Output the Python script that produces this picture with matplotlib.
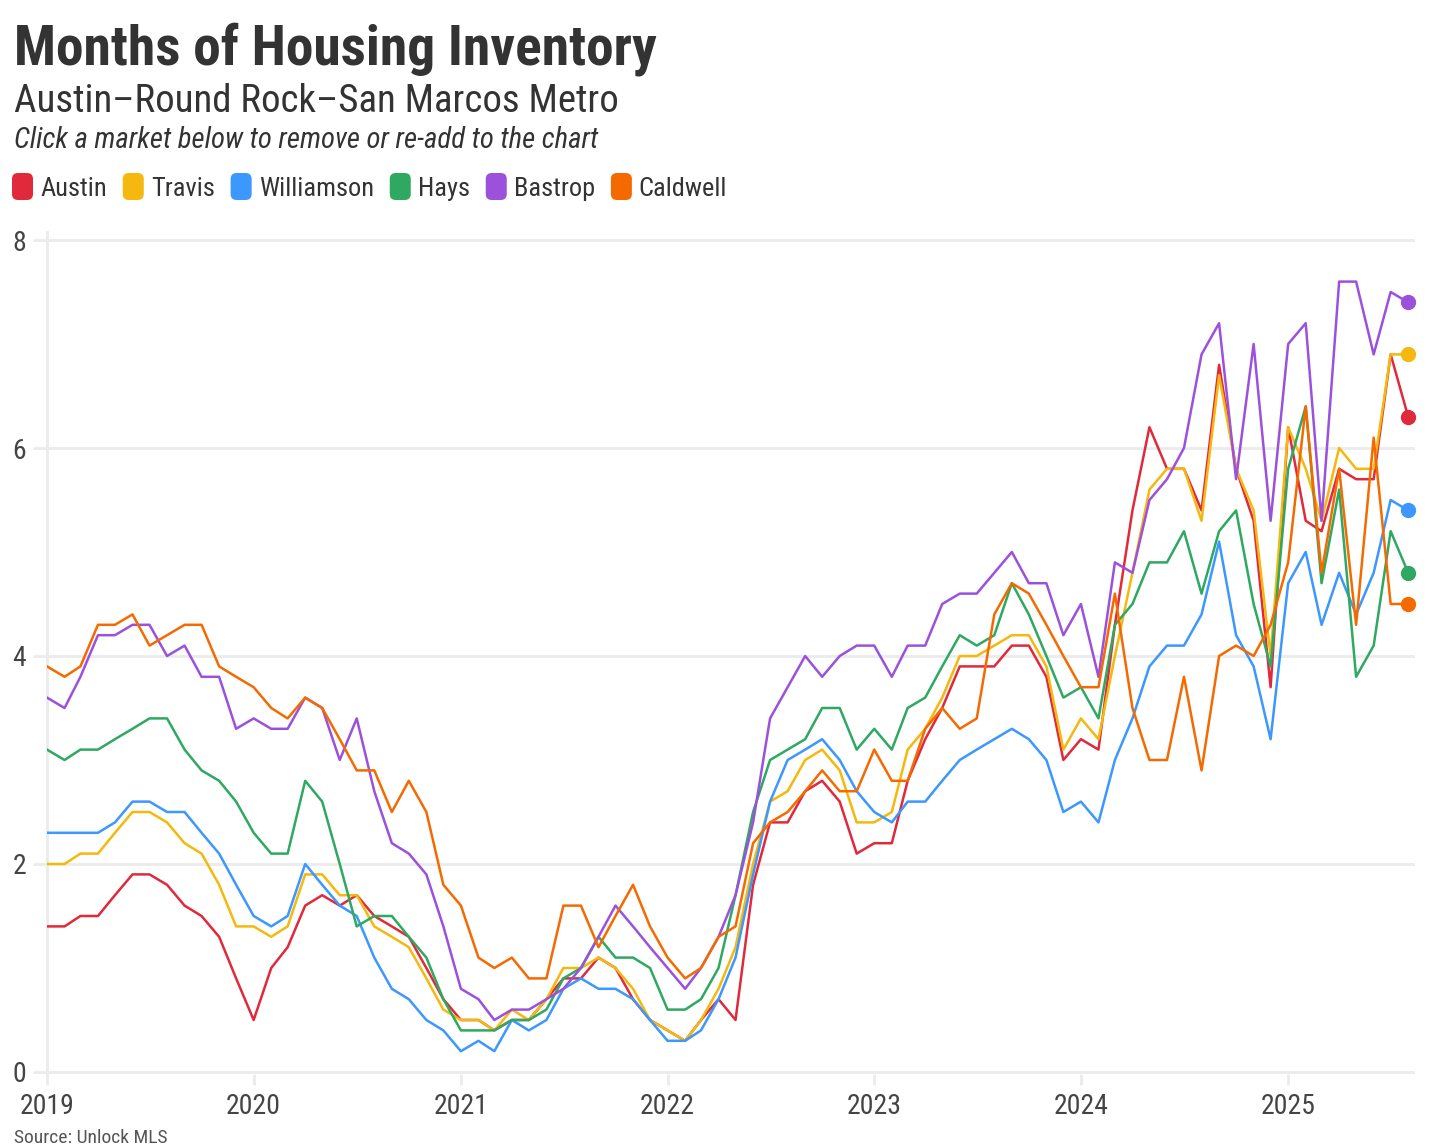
import matplotlib
matplotlib.use('Agg')
import matplotlib.pyplot as plt
import matplotlib.dates as mdates
from matplotlib import font_manager
from matplotlib.patches import FancyBboxPatch
from matplotlib.transforms import IdentityTransform
import pandas as pd

# pick a narrow font if there is one (the original uses Roboto Condensed)
available = {f.name for f in font_manager.fontManager.ttflist}
FONT = 'Roboto'
for cand in ['Roboto Condensed', 'Liberation Sans Narrow', 'Roboto']:
    if cand in available:
        FONT = cand
        break
plt.rcParams['font.family'] = [FONT, 'DejaVu Sans']

# Data: months of inventory, Jan 2019 - Aug 2025
months = pd.date_range('2019-01-01', periods=80, freq='MS')
markets = ['Austin', 'Travis', 'Williamson', 'Hays', 'Bastrop', 'Caldwell']
colors = ['#e02a3b', '#f4b80e', '#3c97ff', '#2fa862', '#9b51dc', '#f56a00']

austin = [1.4, 1.4, 1.5, 1.5, 1.7, 1.9, 1.9, 1.8, 1.6, 1.5, 1.3, 0.9,
          0.5, 1.0, 1.2, 1.6, 1.7, 1.6, 1.7, 1.5, 1.4, 1.3, 1.0, 0.7,
          0.5, 0.5, 0.4, 0.5, 0.5, 0.7, 0.9, 0.9, 1.1, 1.0, 0.7, 0.5,
          0.4, 0.3, 0.5, 0.7, 0.5, 1.8, 2.4, 2.4, 2.7, 2.8, 2.6, 2.1,
          2.2, 2.2, 2.8, 3.2, 3.5, 3.9, 3.9, 3.9, 4.1, 4.1, 3.8, 3.0,
          3.2, 3.1, 4.3, 5.4, 6.2, 5.8, 5.8, 5.4, 6.8, 5.8, 5.3, 3.7,
          6.2, 5.3, 5.2, 5.8, 5.7, 5.7, 6.9, 6.3]
travis = [2.0, 2.0, 2.1, 2.1, 2.3, 2.5, 2.5, 2.4, 2.2, 2.1, 1.8, 1.4,
          1.4, 1.3, 1.4, 1.9, 1.9, 1.7, 1.7, 1.4, 1.3, 1.2, 0.9, 0.6,
          0.5, 0.5, 0.4, 0.6, 0.5, 0.7, 1.0, 1.0, 1.1, 1.0, 0.8, 0.5,
          0.4, 0.3, 0.5, 0.8, 1.2, 2.0, 2.6, 2.7, 3.0, 3.1, 2.9, 2.4,
          2.4, 2.5, 3.1, 3.3, 3.6, 4.0, 4.0, 4.1, 4.2, 4.2, 3.9, 3.1,
          3.4, 3.2, 4.0, 4.8, 5.6, 5.8, 5.8, 5.3, 6.7, 5.8, 5.4, 4.0,
          6.2, 5.8, 5.3, 6.0, 5.8, 5.8, 6.9, 6.9]
williamson = [2.3, 2.3, 2.3, 2.3, 2.4, 2.6, 2.6, 2.5, 2.5, 2.3, 2.1, 1.8,
              1.5, 1.4, 1.5, 2.0, 1.8, 1.6, 1.5, 1.1, 0.8, 0.7, 0.5, 0.4,
              0.2, 0.3, 0.2, 0.5, 0.4, 0.5, 0.8, 0.9, 0.8, 0.8, 0.7, 0.5,
              0.3, 0.3, 0.4, 0.7, 1.1, 1.9, 2.6, 3.0, 3.1, 3.2, 3.0, 2.7,
              2.5, 2.4, 2.6, 2.6, 2.8, 3.0, 3.1, 3.2, 3.3, 3.2, 3.0, 2.5,
              2.6, 2.4, 3.0, 3.4, 3.9, 4.1, 4.1, 4.4, 5.1, 4.2, 3.9, 3.2,
              4.7, 5.0, 4.3, 4.8, 4.4, 4.8, 5.5, 5.4]
hays = [3.1, 3.0, 3.1, 3.1, 3.2, 3.3, 3.4, 3.4, 3.1, 2.9, 2.8, 2.6,
        2.3, 2.1, 2.1, 2.8, 2.6, 2.0, 1.4, 1.5, 1.5, 1.3, 1.1, 0.7,
        0.4, 0.4, 0.4, 0.5, 0.5, 0.6, 0.9, 1.0, 1.3, 1.1, 1.1, 1.0,
        0.6, 0.6, 0.7, 1.0, 1.7, 2.5, 3.0, 3.1, 3.2, 3.5, 3.5, 3.1,
        3.3, 3.1, 3.5, 3.6, 3.9, 4.2, 4.1, 4.2, 4.7, 4.4, 4.0, 3.6,
        3.7, 3.4, 4.3, 4.5, 4.9, 4.9, 5.2, 4.6, 5.2, 5.4, 4.5, 3.9,
        5.8, 6.4, 4.7, 5.6, 3.8, 4.1, 5.2, 4.8]
bastrop = [3.6, 3.5, 3.8, 4.2, 4.2, 4.3, 4.3, 4.0, 4.1, 3.8, 3.8, 3.3,
           3.4, 3.3, 3.3, 3.6, 3.5, 3.0, 3.4, 2.7, 2.2, 2.1, 1.9, 1.4,
           0.8, 0.7, 0.5, 0.6, 0.6, 0.7, 0.8, 1.0, 1.3, 1.6, 1.4, 1.2,
           1.0, 0.8, 1.0, 1.3, 1.7, 2.4, 3.4, 3.7, 4.0, 3.8, 4.0, 4.1,
           4.1, 3.8, 4.1, 4.1, 4.5, 4.6, 4.6, 4.8, 5.0, 4.7, 4.7, 4.2,
           4.5, 3.8, 4.9, 4.8, 5.5, 5.7, 6.0, 6.9, 7.2, 5.7, 7.0, 5.3,
           7.0, 7.2, 5.3, 7.6, 7.6, 6.9, 7.5, 7.4]
caldwell = [3.9, 3.8, 3.9, 4.3, 4.3, 4.4, 4.1, 4.2, 4.3, 4.3, 3.9, 3.8,
            3.7, 3.5, 3.4, 3.6, 3.5, 3.2, 2.9, 2.9, 2.5, 2.8, 2.5, 1.8,
            1.6, 1.1, 1.0, 1.1, 0.9, 0.9, 1.6, 1.6, 1.2, 1.5, 1.8, 1.4,
            1.1, 0.9, 1.0, 1.3, 1.4, 2.2, 2.4, 2.5, 2.7, 2.9, 2.7, 2.7,
            3.1, 2.8, 2.8, 3.3, 3.5, 3.3, 3.4, 4.4, 4.7, 4.6, 4.3, 4.0,
            3.7, 3.7, 4.6, 3.5, 3.0, 3.0, 3.8, 2.9, 4.0, 4.1, 4.0, 4.3,
            4.9, 6.4, 4.8, 5.8, 4.3, 6.1, 4.5, 4.5]
series = [austin, travis, williamson, hays, bastrop, caldwell]

W, H = 1444, 1146
TEXT = '#333333'
GRID = '#ebebeb'

fig = plt.figure(figsize=(W / 100, H / 100), dpi=100)

# plot area in pixels: x 47..1415, y 232..1074 (0 at y=1072, 8 at y=240)
ax = fig.add_axes([47 / W, (H - 1074) / H, (1415 - 47) / W, (1074 - 232) / H])

for name, vals, color in zip(markets, series, colors):
    ax.plot(months, vals, color=color, lw=1.8, zorder=3)
    ax.plot(months[-1], vals[-1], 'o', ms=10, color=color, mec=color,
            clip_on=False, zorder=4)

ax.set_ylim(-2 / 104, 8 + 8 / 104)
ax.set_xlim(pd.Timestamp('2019-01-01'), pd.Timestamp('2025-08-13'))
ax.set_yticks([0, 2, 4, 6, 8])
ax.xaxis.set_major_locator(mdates.YearLocator())
ax.xaxis.set_major_formatter(mdates.DateFormatter('%Y'))

ax.yaxis.grid(True, color=GRID, linewidth=2)
ax.set_axisbelow(True)
for side in ['top', 'right', 'bottom']:
    ax.spines[side].set_visible(False)
ax.spines['left'].set_color(GRID)
ax.spines['left'].set_linewidth(2)

ax.tick_params(axis='y', length=10, width=2, color=GRID, pad=5,
               labelsize=20, labelcolor='#444444')
ax.tick_params(axis='x', length=8, width=2, color=GRID, pad=6,
               labelsize=20, labelcolor='#444444')

# titles
fig.text(14 / W, 1 - 64 / H, 'Months of Housing Inventory', fontsize=40,
         fontweight='bold', color=TEXT, va='baseline')
fig.text(14 / W, 1 - 112 / H, 'Austin\u2013Round Rock\u2013San Marcos Metro',
         fontsize=28, color=TEXT, va='baseline')
fig.text(14 / W, 1 - 148 / H, 'Click a market below to remove or re-add to the chart',
         fontsize=20.7, fontstyle='italic', color=TEXT, va='baseline')

# legend: rounded swatches followed by labels
renderer = fig.canvas.get_renderer()
x = 12
for name, color in zip(markets, colors):
    sw = FancyBboxPatch((x, H - 200), 21, 27, boxstyle='round,pad=0,rounding_size=6',
                        transform=IdentityTransform(), facecolor=color,
                        edgecolor='none')
    fig.patches.append(sw)
    t = fig.text((x + 28) / W, 1 - 196 / H, name, fontsize=19, color=TEXT,
                 va='baseline')
    bb = t.get_window_extent(renderer)
    x = bb.x1 + 16

# source line at the bottom edge
fig.text(14 / W, 1 - 1143 / H, 'Source: Unlock MLS', fontsize=14,
         color='#555555', va='baseline')

fig.savefig('out.png', dpi=100)
